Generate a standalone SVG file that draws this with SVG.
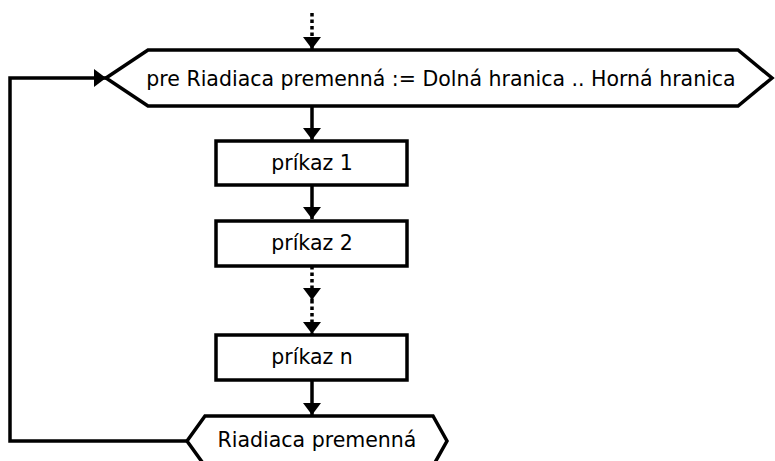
<svg xmlns="http://www.w3.org/2000/svg" width="775" height="461" viewBox="0 0 775 461">
<defs>
<marker id="ah" markerWidth="12" markerHeight="18" refX="12" refY="9" orient="auto" markerUnits="userSpaceOnUse">
<path d="M0,0 L12,9 L0,18 Z" fill="#000"/>
</marker>
<style>
.shape{fill:#fff;stroke:#000;stroke-width:3.5;stroke-linejoin:miter}
.line{fill:none;stroke:#000;stroke-width:3.5}
.dot{fill:none;stroke:#000;stroke-width:3.5;stroke-dasharray:3.5 3}
.t{font-family:"DejaVu Sans",Verdana,sans-serif;font-size:20.5px;fill:#000;text-anchor:middle}
</style>
</defs>
<rect width="775" height="461" fill="#fff"/>
<g id="connectors">
<line class="dot" x1="312" y1="13" x2="312" y2="49" marker-end="url(#ah)"/>
<line class="line" x1="312" y1="106" x2="312" y2="140" marker-end="url(#ah)"/>
<line class="line" x1="312" y1="185" x2="312" y2="219" marker-end="url(#ah)"/>
<line class="dot" x1="312" y1="266" x2="312" y2="300" marker-end="url(#ah)"/>
<line class="dot" x1="312" y1="300" x2="312" y2="334" marker-end="url(#ah)"/>
<line class="line" x1="312" y1="380" x2="312" y2="415" marker-end="url(#ah)"/>
<polyline class="line" points="187,441 10,441 10,78 106,78" marker-end="url(#ah)"/>
</g>
<g id="loop-head">
<polygon class="shape" points="106,78 148,50 738,50 772,78 738,106 148,106"/>
<text class="t" x="441" y="86">pre Riadiaca premenná := Dolná hranica .. Horná hranica</text>
</g>
<g id="cmd1">
<rect class="shape" x="216" y="141" width="191" height="44"/>
<text class="t" x="312" y="170">príkaz 1</text>
</g>
<g id="cmd2">
<rect class="shape" x="216" y="221" width="191" height="45"/>
<text class="t" x="312" y="250">príkaz 2</text>
</g>
<g id="cmdn">
<rect class="shape" x="216" y="335" width="191" height="45"/>
<text class="t" x="312" y="364">príkaz n</text>
</g>
<g id="loop-end">
<polygon class="shape" points="187,441 205,416 433,416 447,441 433,466 205,466"/>
<text class="t" x="317" y="447">Riadiaca premenná</text>
</g>
</svg>
